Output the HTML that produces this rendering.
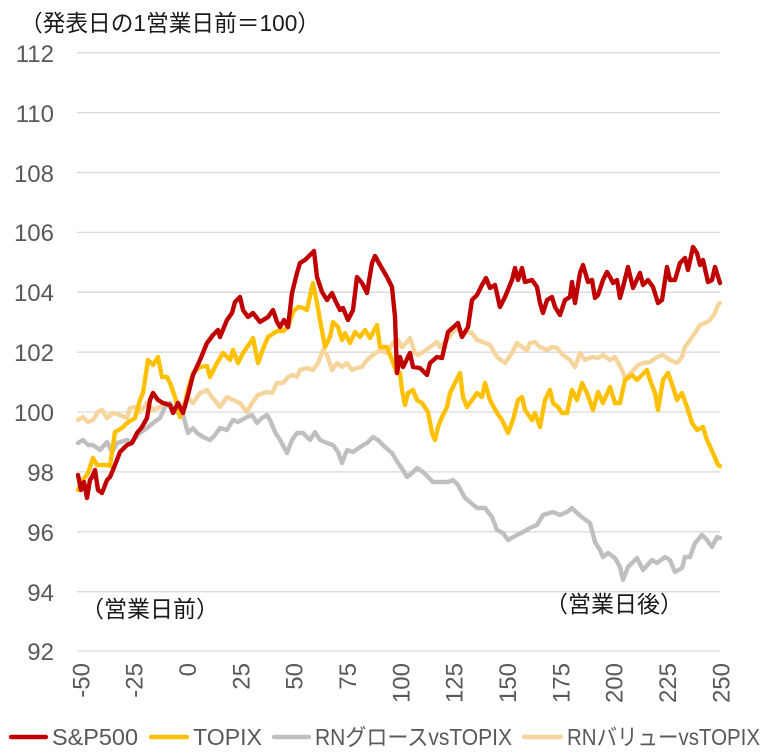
<!DOCTYPE html>
<html><head><meta charset="utf-8"><style>
html,body{margin:0;padding:0;background:#fff;}
svg{display:block;}
</style></head><body>
<svg width="764" height="753" viewBox="0 0 764 753" xmlns="http://www.w3.org/2000/svg" font-family="'Liberation Sans','Noto Sans CJK JP',sans-serif">
<rect width="764" height="753" fill="#fff"/>
<text x="20" y="31" font-size="23" fill="#1a1a1a" textLength="300" lengthAdjust="spacingAndGlyphs">（発表日の1営業日前＝100）</text>
<g stroke="#d9d9d9" stroke-width="1.3">
<line x1="77" y1="52.7" x2="720" y2="52.7"/>
<line x1="77" y1="112.6" x2="720" y2="112.6"/>
<line x1="77" y1="172.5" x2="720" y2="172.5"/>
<line x1="77" y1="232.4" x2="720" y2="232.4"/>
<line x1="77" y1="292.3" x2="720" y2="292.3"/>
<line x1="77" y1="352.2" x2="720" y2="352.2"/>
<line x1="77" y1="412.0" x2="720" y2="412.0"/>
<line x1="77" y1="471.9" x2="720" y2="471.9"/>
<line x1="77" y1="531.8" x2="720" y2="531.8"/>
<line x1="77" y1="591.7" x2="720" y2="591.7"/>
<line x1="77" y1="651.0" x2="720" y2="651.0"/>
</g>
<g font-size="24" fill="#595959" text-anchor="end">
<text x="54" y="62">112</text>
<text x="54" y="122">110</text>
<text x="54" y="182">108</text>
<text x="54" y="241">106</text>
<text x="54" y="301">104</text>
<text x="54" y="361">102</text>
<text x="54" y="421">100</text>
<text x="54" y="481">98</text>
<text x="54" y="541">96</text>
<text x="54" y="601">94</text>
<text x="54" y="660">92</text>
</g>
<g font-size="24" fill="#595959" text-anchor="end">
<text transform="translate(89.3,663) rotate(-90)">-50</text>
<text transform="translate(142.6,663) rotate(-90)">-25</text>
<text transform="translate(196,663) rotate(-90)">0</text>
<text transform="translate(249.3,663) rotate(-90)">25</text>
<text transform="translate(302.6,663) rotate(-90)">50</text>
<text transform="translate(356,663) rotate(-90)">75</text>
<text transform="translate(409.3,663) rotate(-90)">100</text>
<text transform="translate(462.6,663) rotate(-90)">125</text>
<text transform="translate(516,663) rotate(-90)">150</text>
<text transform="translate(569.3,663) rotate(-90)">175</text>
<text transform="translate(622.6,663) rotate(-90)">200</text>
<text transform="translate(676,663) rotate(-90)">225</text>
<text transform="translate(729.3,663) rotate(-90)">250</text>
</g>
<g fill="none" stroke-width="4.4" stroke-linejoin="round" stroke-linecap="round">
<polyline stroke="#f5d59c" points="78,420 83,417 88,422 93,420 98,412 102,410 107,418 113,413 120,415 127,418 130,408 135,407 140,412 147,403 153,410 160,407 167,403 173,407 180,412 187,397 193,403 200,393 207,390 212,397 220,407 227,397 233,400 240,403 247,412 252,403 258,395 267,392 272,393 277,383 283,383 288,377 293,375 297,377 300,370 307,368 313,370 318,363 323,350 327,355 332,370 337,363 342,367 347,363 352,370 357,368 362,367 367,360 373,355 380,350 387,353 393,343 398,340 402,347 407,342 410,338 415,353 418,355 423,352 430,347 437,342 440,347 447,340 452,333 457,328 462,335 467,332 472,333 477,340 483,342 490,345 497,357 505,363 512,353 517,343 522,347 527,350 530,343 535,342 540,347 547,350 552,347 557,348 563,355 570,360 575,367 580,353 585,360 592,357 598,358 603,355 610,360 615,357 622,370 625,378 632,372 638,365 643,363 650,362 657,357 663,355 670,360 677,363 682,357 685,347 690,340 695,333 700,325 705,323 710,320 715,313 718,305 720,303"/>
<polyline stroke="#bfbfbf" points="78,443 83,440 88,445 93,445 100,450 107,442 112,452 117,443 127,440 132,442 140,433 147,428 153,423 160,418 165,407 170,403 173,410 178,413 182,410 185,422 188,433 193,428 197,433 203,437 210,440 215,435 220,428 227,430 233,420 238,422 247,417 252,415 257,423 262,418 267,415 270,420 275,432 280,440 287,453 292,440 297,433 303,433 310,440 315,432 320,440 327,443 333,445 338,452 342,463 347,450 353,452 360,447 367,443 373,437 378,440 385,447 392,453 398,463 403,470 407,477 412,473 417,468 423,472 433,482 443,482 448,482 453,480 458,485 465,498 470,502 477,508 485,508 492,517 497,530 503,533 508,540 517,535 523,532 530,528 537,525 543,515 553,512 560,515 567,512 572,508 577,513 583,518 590,523 595,542 600,550 603,557 608,553 615,558 620,567 623,580 628,567 637,558 643,570 652,560 657,563 665,557 670,560 675,572 682,568 685,557 690,557 695,543 702,535 707,540 712,547 717,537 720,538"/>
<polyline stroke="#ffc000" points="78,490 83,480 88,473 93,458 97,465 102,465 107,465 110,466 115,432 122,428 127,423 135,418 140,400 143,393 148,360 153,365 158,357 162,377 167,377 170,383 175,397 180,417 185,405 187,393 193,373 200,367 207,366 210,377 217,363 223,353 230,360 233,350 238,363 243,353 250,343 253,338 258,363 263,349 268,337 277,331 283,331 288,327 293,312 298,307 303,308 307,310 312,287 313,283 317,303 320,320 325,347 330,337 333,322 338,327 342,340 345,333 350,343 355,332 360,337 365,330 370,338 377,325 380,347 387,347 392,360 397,373 400,373 402,390 405,405 408,393 413,390 417,400 422,403 428,412 432,433 435,440 438,427 442,417 447,407 450,393 455,383 460,373 463,397 467,407 472,400 477,393 482,397 485,383 490,400 497,413 502,420 508,433 513,420 518,400 522,397 525,410 532,420 535,413 540,427 545,400 550,390 553,403 558,407 562,413 567,413 572,390 577,400 582,383 587,393 593,410 598,392 603,403 610,387 615,403 620,403 625,380 632,375 637,380 647,370 650,380 655,393 658,410 663,380 668,373 673,387 677,400 682,393 687,407 692,423 697,430 703,427 707,440 713,453 718,465 720,466"/>
<polyline stroke="#c00000" points="78,475 81,490 84,482 87,498 90,480 92,477 95,470 98,490 102,493 107,480 110,477 115,465 120,452 127,445 132,443 137,433 142,427 147,418 150,400 153,393 158,400 163,403 170,405 173,413 178,403 183,413 188,395 193,375 200,360 207,343 213,335 218,330 220,337 227,320 232,313 235,302 240,297 243,310 248,317 253,313 260,322 268,317 273,310 277,322 280,327 284,320 288,327 292,293 297,273 300,263 305,260 308,257 312,253 314,251 317,277 322,292 327,300 332,293 335,300 340,310 343,308 348,320 353,310 357,277 362,283 367,293 372,263 375,256 380,265 387,277 392,287 395,317 397,373 400,357 403,367 410,353 413,367 420,368 427,375 430,363 437,357 442,358 448,332 458,323 462,337 468,327 472,300 477,295 482,285 486,278 490,288 495,285 500,307 505,297 512,280 515,268 518,280 522,268 525,282 532,280 537,287 540,303 543,313 547,300 552,297 555,307 560,315 565,300 570,297 572,282 575,303 580,273 583,265 588,282 592,280 595,298 598,295 603,280 607,272 610,277 613,283 617,280 620,298 623,287 628,267 633,288 640,273 643,285 648,280 653,287 658,303 662,300 667,267 670,280 675,280 680,263 685,258 688,270 693,247 697,253 700,265 703,260 708,282 712,280 715,267 720,283"/>
</g>
<text x="81" y="617" font-size="23" fill="#1a1a1a" textLength="138" lengthAdjust="spacingAndGlyphs">（営業日前）</text>
<text x="545" y="612" font-size="23" fill="#1a1a1a" textLength="138" lengthAdjust="spacingAndGlyphs">（営業日後）</text>
<g stroke-width="4.4" stroke-linecap="round">
<line x1="11" y1="737" x2="46" y2="737" stroke="#c00000"/>
<line x1="151" y1="737" x2="187" y2="737" stroke="#ffc000"/>
<line x1="274" y1="737" x2="309" y2="737" stroke="#bfbfbf"/>
<line x1="524" y1="737" x2="561" y2="737" stroke="#f5d59c"/>
</g>
<g font-size="23" fill="#595959">
<text x="52" y="745" textLength="86" lengthAdjust="spacingAndGlyphs">S&amp;P500</text>
<text x="193" y="745" textLength="69" lengthAdjust="spacingAndGlyphs">TOPIX</text>
<text x="315" y="745" textLength="197" lengthAdjust="spacingAndGlyphs">RNグロースvsTOPIX</text>
<text x="567" y="745" textLength="193" lengthAdjust="spacingAndGlyphs">RNバリューvsTOPIX</text>
</g>
</svg>
</body></html>
